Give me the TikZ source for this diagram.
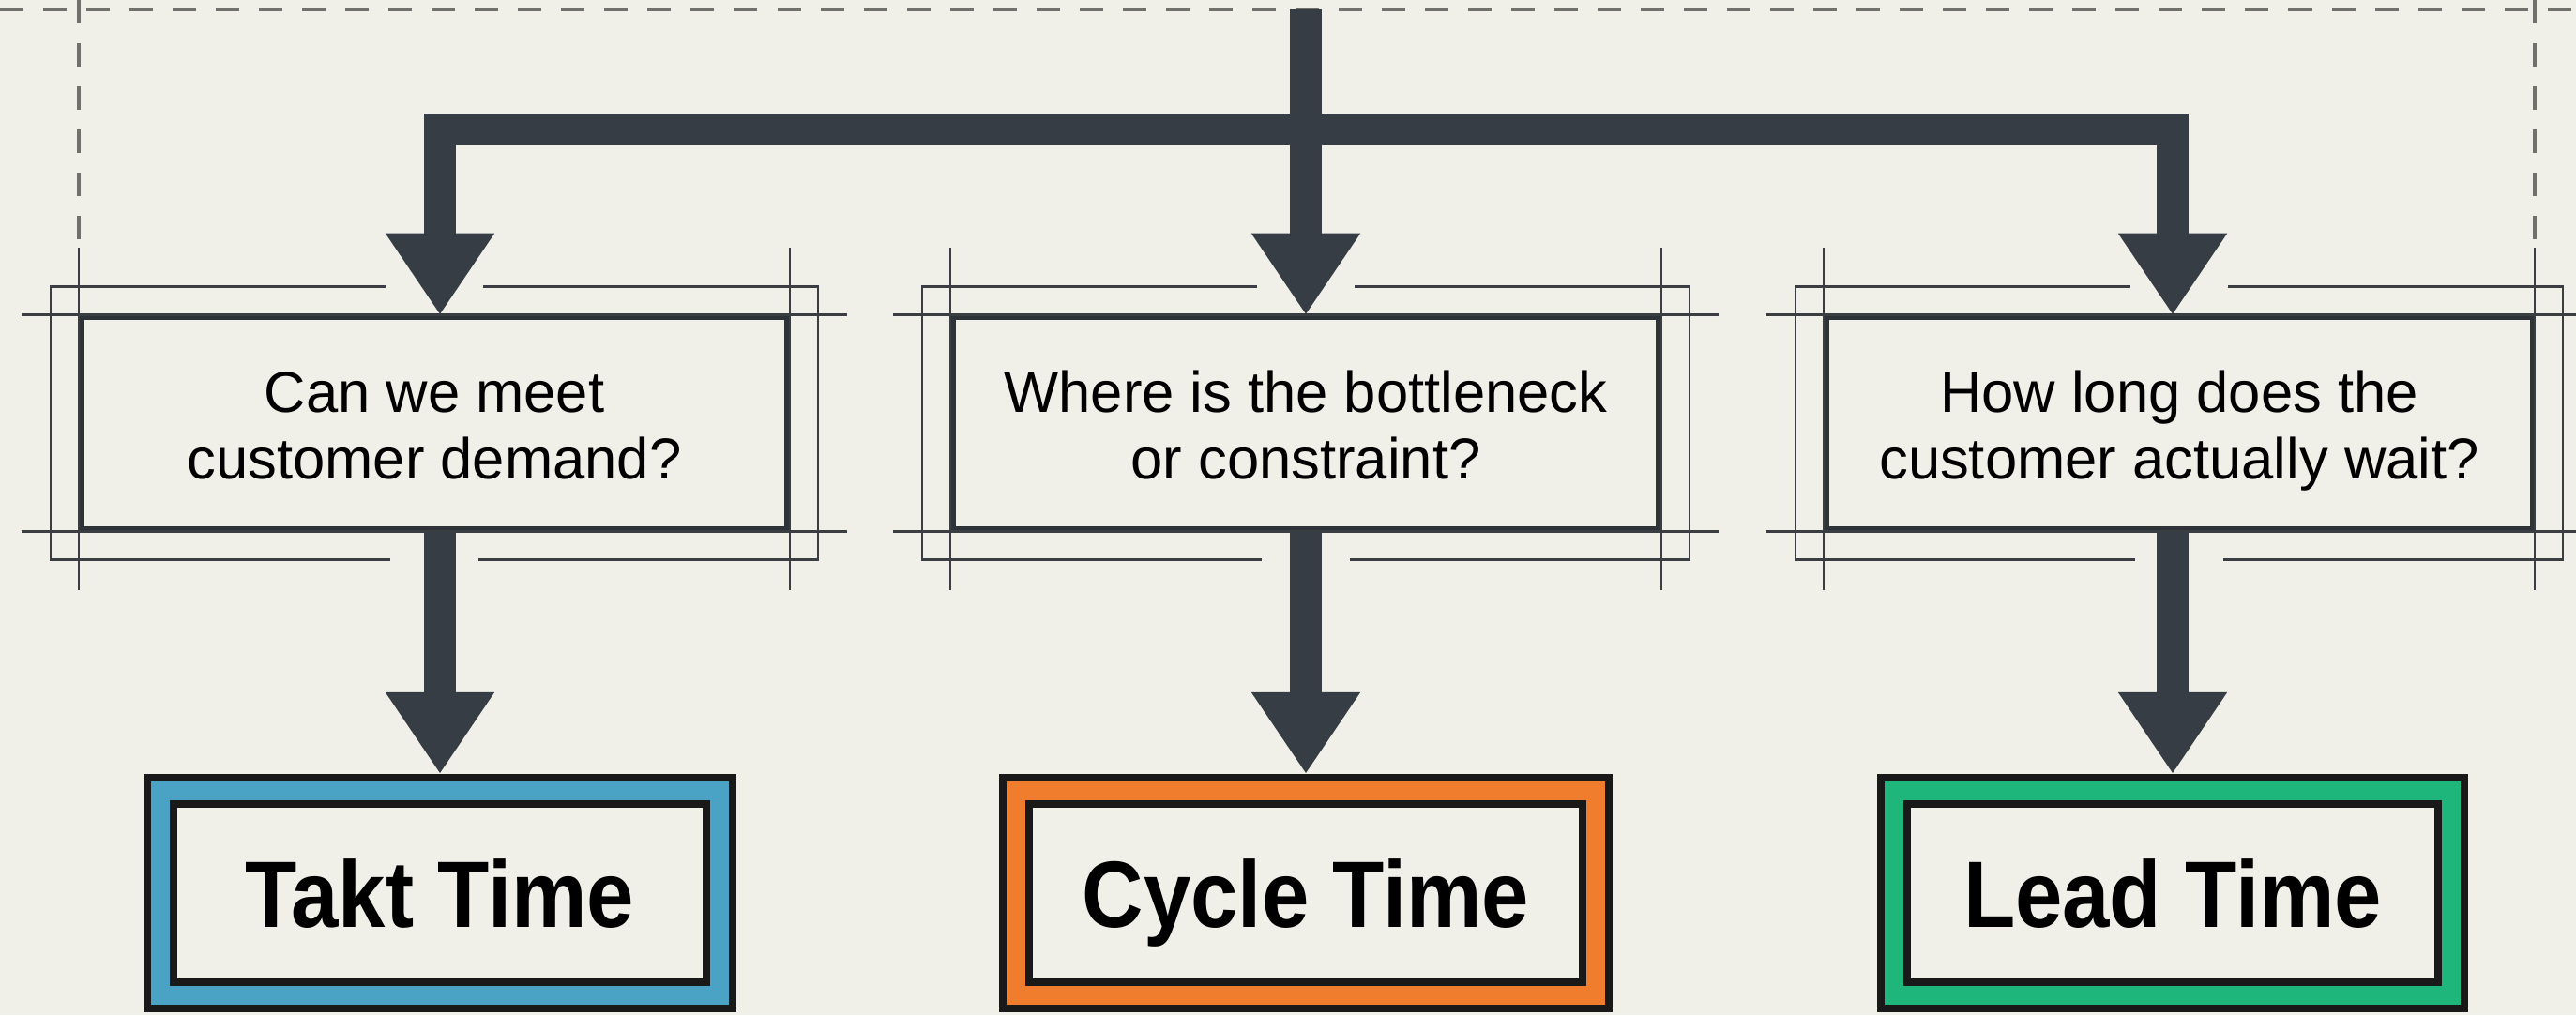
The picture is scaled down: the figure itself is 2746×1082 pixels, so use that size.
\documentclass[tikz,border=0pt]{standalone}
\usepackage{fontspec}
\setmainfont{Liberation Sans}
\newfontfamily\namefont[FakeStretch=0.9]{Liberation Sans}
\usetikzlibrary{arrows.meta,calc}

\definecolor{paper}{RGB}{240,240,232}
\definecolor{ink}{RGB}{46,51,56}
\definecolor{arrowgray}{RGB}{54,61,68}
\definecolor{guidegray}{RGB}{58,62,66}
\definecolor{dashgray}{RGB}{112,112,108}
\definecolor{taktblue}{RGB}{74,163,196}
\definecolor{cycleorange}{RGB}{240,125,45}
\definecolor{leadgreen}{RGB}{31,182,124}

\tikzset{
  bigtip/.tip={Triangle[length=0.87cm,width=1.1cm]},
  question/.style={draw=ink, line width=0.055cm, minimum width=7.52cm, minimum height=2.25cm,
    align=center, inner sep=0pt, font=\fontsize{17.5}{20.2}\selectfont},
  result/.style={draw=black!90, line width=0.08cm, double distance=0.2cm, fill=paper,
    minimum height=2.18cm, outer sep=0.18cm, text height=0.72cm, text depth=0pt,
    font=\namefont\bfseries\fontsize{28.6}{34}\selectfont},
  flow/.style={draw=arrowgray, line width=0.34cm, -bigtip},
  branch/.style={flow, bigtip-bigtip, line join=miter},
  guide/.style={draw=guidegray, line width=0.026cm},
  dashframe/.style={draw=dashgray, line width=0.035cm, dash pattern=on 0.25cm off 0.21cm},
}

% construction lines round a question box
\newcommand{\sketchframe}[1]{%
  \draw[guide] ($(#1.north west)+(-61,0)$) -- ($(#1.north east)+(61,0)$);
  \draw[guide] ($(#1.south west)+(-61,0)$) -- ($(#1.south east)+(61,0)$);
  \draw[guide] ($(#1.north west)+(0,-72)$) -- ($(#1.south west)+(0,63)$);
  \draw[guide] ($(#1.north east)+(0,-72)$) -- ($(#1.south east)+(0,63)$);
  % offset frame, open where the arrows pass
  \draw[guide] ($(#1.north)+(-52,-30)$) -| ($(#1.south west)+(-30,30)$) -- ($(#1.south)+(-47,30)$);
  \draw[guide] ($(#1.north)+(52,-30)$) -| ($(#1.south east)+(30,30)$) -- ($(#1.south)+(47,30)$);
}

\begin{document}
\begin{tikzpicture}[x=0.01cm, y=-0.01cm]
  \fill[paper] (0,0) rectangle (2746,1082);
  \useasboundingbox (0,0) rectangle (2746,1082);

  % questions
  \node[question] (q1) at (463,451) {\rule{0pt}{19.8pt}Can we meet\\customer demand?\strut};
  \node[question] (q2) at (1392,451) {\rule{0pt}{19.8pt}Where is the bottleneck\\or constraint?\strut};
  \node[question] (q3) at (2323,451) {\rule{0pt}{19.8pt}How long does the\\customer actually wait?\strut};

  % measures
  \node[result, double=taktblue, minimum width=5.95cm] (takt) at (469,952) {Takt Time};
  \node[result, double=cycleorange, minimum width=6.17cm] (cycle) at (1392,952) {Cycle Time};
  \node[result, double=leadgreen, minimum width=5.94cm] (lead) at (2316,952) {Lead Time};

  % dashed layout frame
  \coordinate (edge) at (0,0);
  \coordinate (top) at (1392,10);
  \coordinate (fork) at (1392,138);
  \draw[dashframe] (0,10) -- (2746,10);
  \draw[dashframe] (q1.north west |- edge) -- ($(q1.north west)+(0,-74)$);
  \draw[dashframe] (q3.north east |- edge) -- ($(q3.north east)+(0,-74)$);

  \sketchframe{q1}
  \sketchframe{q2}
  \sketchframe{q3}

  % arrows
  \draw[flow] (top) -- (q2.north);
  \draw[branch] (takt.north |- q1.north) |- (fork) -| (lead.north |- q3.north);
  \draw[flow] (takt.north |- q1.south) -- (takt.north);
  \draw[flow] (q2.south) -- (cycle.north);
  \draw[flow] (lead.north |- q3.south) -- (lead.north);
\end{tikzpicture}
\end{document}
